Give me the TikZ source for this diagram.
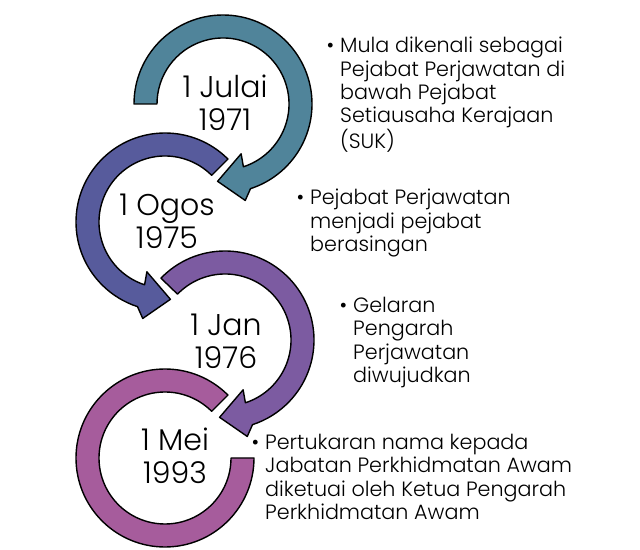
\documentclass[tikz,border=0pt]{standalone}
\usepackage{fontspec}
\setmainfont{Poppins}[UprightFont={* Light}]
\usepackage{tikz}
\definecolor{julaiteal}{HTML}{50849A}
\definecolor{ogosblue}{HTML}{575B9C}
\definecolor{janpurple}{HTML}{7C5BA1}
\definecolor{meimauve}{HTML}{A65C9C}

\begin{document}
\begin{tikzpicture}[line cap=round,line join=round,x=1pt,y=1pt,
  circarrow/.style={draw=black,line width=1.4pt},
  datelabel/.style={align=center,inner sep=0pt,font=\fontsize{30}{33}\selectfont},
  notetext/.style={anchor=north west,align=left,inner sep=0pt,font=\fontsize{20.7}{23.3}\selectfont}]
\useasboundingbox (0,0) rectangle (640,549);
% circular arrows
\draw [circarrow,fill=julaiteal,shift={(223,445)}] (180:89) arc[start angle=180,end angle=-72,radius=89] -- (-77:99) -- (-94:77.5) -- (-70:53) -- (-72:66) arc[start angle=-72,end angle=180,radius=66] -- cycle;
\draw [circarrow,fill=ogosblue,shift={(165,327)}] (45:89) arc[start angle=45,end angle=252,radius=89] -- (257:99) -- (274:77.5) -- (250:53) -- (252:66) arc[start angle=252,end angle=45,radius=66] -- cycle;
\draw [circarrow,fill=janpurple,shift={(225,209)}] (136:89) arc[start angle=136,end angle=-72,radius=89] -- (-77:99) -- (-94:77.5) -- (-70:53) -- (-72:66) arc[start angle=-72,end angle=136,radius=66] -- cycle;
\draw [circarrow,fill=meimauve,shift={(165,91)}] (45:89) arc[start angle=45,end angle=360,radius=89] -- (0:66) arc[start angle=360,end angle=45,radius=66] -- cycle;
% dates
\node [datelabel] (julai) at (225,446) {1 Julai\\1971};
\node [datelabel] (ogos) at (167,328) {1 Ogos\\1975};
\node [datelabel] (jan) at (226,208) {1 Jan\\1976};
\node [datelabel] (mei) at (175,93) {1 Mei\\1993};
% notes
\node [notetext] (notejulai) at (340,512) {\llap{\textbullet\hspace{6pt}}Mula dikenali sebagai\\Pejabat Perjawatan di\\bawah Pejabat\\Setiausaha Kerajaan\\(SUK)};
\node [notetext] (noteogos) at (310,360) {\llap{\textbullet\hspace{6pt}}Pejabat Perjawatan\\menjadi pejabat\\berasingan};
\node [notetext] (notejan) at (353,252) {\llap{\textbullet\hspace{6pt}}Gelaran\\Pengarah\\Perjawatan\\diwujudkan};
\node [notetext] (notemei) at (265,115) {\llap{\textbullet\hspace{6pt}}Pertukaran nama kepada\\Jabatan Perkhidmatan Awam\\diketuai oleh Ketua Pengarah\\Perkhidmatan Awam};
\end{tikzpicture}
\end{document}
